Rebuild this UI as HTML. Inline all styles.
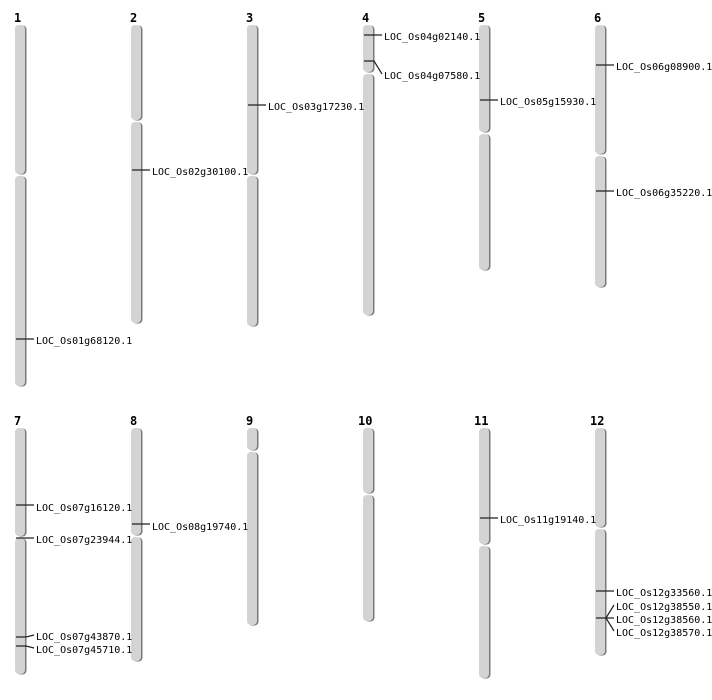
<!DOCTYPE html>
<html><head><meta charset="utf-8"><style>
html,body{margin:0;padding:0;background:#fff;width:712px;height:700px;overflow:hidden}
svg{display:block}
.t{font-family:"DejaVu Sans Mono","Liberation Mono",monospace;font-size:10px;fill:#000}
.h{font-family:"DejaVu Sans Mono","Liberation Mono",monospace;font-size:12px;font-weight:bold;fill:#000}
.s{fill:#7a7a7a}
.m{fill:#d3d3d3}
.k{stroke:#222;stroke-width:1.2;fill:none}
</style></head><body>
<svg width="712" height="700" viewBox="0 0 712 700" xmlns="http://www.w3.org/2000/svg">
<text class="h" x="14" y="22">1</text>
<text class="h" x="130" y="22">2</text>
<text class="h" x="246" y="22">3</text>
<text class="h" x="362" y="22">4</text>
<text class="h" x="478" y="22">5</text>
<text class="h" x="594" y="22">6</text>
<text class="h" x="14" y="425">7</text>
<text class="h" x="130" y="425">8</text>
<text class="h" x="246" y="425">9</text>
<text class="h" x="358" y="425">10</text>
<text class="h" x="474" y="425">11</text>
<text class="h" x="590" y="425">12</text>

<rect class="s" x="16.5" y="25.5" width="10" height="149" rx="4"/><rect class="m" x="15" y="25" width="10" height="149" rx="4"/>
<rect class="s" x="16.5" y="176.5" width="10" height="210" rx="4"/><rect class="m" x="15" y="176" width="10" height="210" rx="4"/>
<rect class="s" x="132.5" y="25.5" width="10" height="95" rx="4"/><rect class="m" x="131" y="25" width="10" height="95" rx="4"/>
<rect class="s" x="132.5" y="122.5" width="10" height="201" rx="4"/><rect class="m" x="131" y="122" width="10" height="201" rx="4"/>
<rect class="s" x="248.5" y="25.5" width="10" height="149" rx="4"/><rect class="m" x="247" y="25" width="10" height="149" rx="4"/>
<rect class="s" x="248.5" y="176.5" width="10" height="150" rx="4"/><rect class="m" x="247" y="176" width="10" height="150" rx="4"/>
<rect class="s" x="364.5" y="25.5" width="10" height="47" rx="4"/><rect class="m" x="363" y="25" width="10" height="47" rx="4"/>
<rect class="s" x="364.5" y="74.5" width="10" height="241" rx="4"/><rect class="m" x="363" y="74" width="10" height="241" rx="4"/>
<rect class="s" x="480.5" y="25.5" width="10" height="107" rx="4"/><rect class="m" x="479" y="25" width="10" height="107" rx="4"/>
<rect class="s" x="480.5" y="134.5" width="10" height="136" rx="4"/><rect class="m" x="479" y="134" width="10" height="136" rx="4"/>
<rect class="s" x="596.5" y="25.5" width="10" height="129" rx="4"/><rect class="m" x="595" y="25" width="10" height="129" rx="4"/>
<rect class="s" x="596.5" y="156.5" width="10" height="131" rx="4"/><rect class="m" x="595" y="156" width="10" height="131" rx="4"/>
<rect class="s" x="16.5" y="428.5" width="10" height="108" rx="4"/><rect class="m" x="15" y="428" width="10" height="108" rx="4"/>
<rect class="s" x="16.5" y="538.5" width="10" height="136" rx="4"/><rect class="m" x="15" y="538" width="10" height="136" rx="4"/>
<rect class="s" x="132.5" y="428.5" width="10" height="107" rx="4"/><rect class="m" x="131" y="428" width="10" height="107" rx="4"/>
<rect class="s" x="132.5" y="537.5" width="10" height="124" rx="4"/><rect class="m" x="131" y="537" width="10" height="124" rx="4"/>
<rect class="s" x="248.5" y="428.5" width="10" height="22" rx="4"/><rect class="m" x="247" y="428" width="10" height="22" rx="4"/>
<rect class="s" x="248.5" y="452.5" width="10" height="173" rx="4"/><rect class="m" x="247" y="452" width="10" height="173" rx="4"/>
<rect class="s" x="364.5" y="428.5" width="10" height="65" rx="4"/><rect class="m" x="363" y="428" width="10" height="65" rx="4"/>
<rect class="s" x="364.5" y="495.5" width="10" height="126" rx="4"/><rect class="m" x="363" y="495" width="10" height="126" rx="4"/>
<rect class="s" x="480.5" y="428.5" width="10" height="116" rx="4"/><rect class="m" x="479" y="428" width="10" height="116" rx="4"/>
<rect class="s" x="480.5" y="546.5" width="10" height="132" rx="4"/><rect class="m" x="479" y="546" width="10" height="132" rx="4"/>
<rect class="s" x="596.5" y="428.5" width="10" height="99" rx="4"/><rect class="m" x="595" y="428" width="10" height="99" rx="4"/>
<rect class="s" x="596.5" y="529.5" width="10" height="126" rx="4"/><rect class="m" x="595" y="529" width="10" height="126" rx="4"/>

<path class="k" d="M16 339H34"/><text class="t" x="36" y="344">LOC_Os01g68120.1</text>
<path class="k" d="M132 170H150"/><text class="t" x="152" y="175">LOC_Os02g30100.1</text>
<path class="k" d="M248 105H266"/><text class="t" x="268" y="110">LOC_Os03g17230.1</text>
<path class="k" d="M364 35H382"/><text class="t" x="384" y="40">LOC_Os04g02140.1</text>
<path class="k" d="M364 61H374L382 74"/><text class="t" x="384" y="79">LOC_Os04g07580.1</text>
<path class="k" d="M480 100H498"/><text class="t" x="500" y="105">LOC_Os05g15930.1</text>
<path class="k" d="M596 65H614"/><text class="t" x="616" y="70">LOC_Os06g08900.1</text>
<path class="k" d="M596 191H614"/><text class="t" x="616" y="196">LOC_Os06g35220.1</text>
<path class="k" d="M16 505H34"/><text class="t" x="36" y="511">LOC_Os07g16120.1</text>
<path class="k" d="M16 538H34"/><text class="t" x="36" y="543">LOC_Os07g23944.1</text>
<path class="k" d="M16 637H26L34 635"/><text class="t" x="36" y="640">LOC_Os07g43870.1</text>
<path class="k" d="M16 646H26L34 648"/><text class="t" x="36" y="653">LOC_Os07g45710.1</text>
<path class="k" d="M132 524H150"/><text class="t" x="152" y="530">LOC_Os08g19740.1</text>
<path class="k" d="M480 518H498"/><text class="t" x="500" y="523">LOC_Os11g19140.1</text>
<path class="k" d="M596 591H614"/><text class="t" x="616" y="596">LOC_Os12g33560.1</text>
<path class="k" d="M596 618H606L614 605M606 618H614M606 618L614 631"/>
<text class="t" x="616" y="610">LOC_Os12g38550.1</text>
<text class="t" x="616" y="623">LOC_Os12g38560.1</text>
<text class="t" x="616" y="636">LOC_Os12g38570.1</text>
</svg>
</body></html>
